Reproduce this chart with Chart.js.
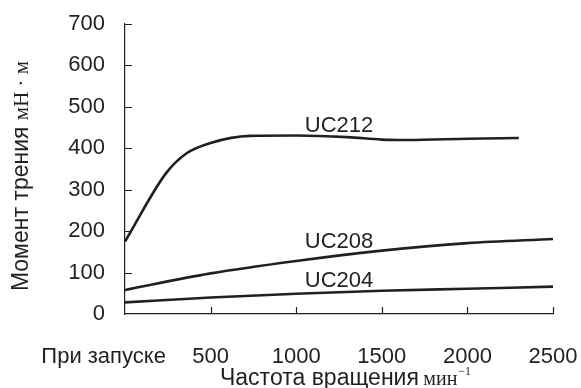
<!DOCTYPE html>
<html>
<head>
<meta charset="utf-8">
<script src="https://cdn.jsdelivr.net/npm/chart.js@4"></script>
<style>
  html, body { margin: 0; padding: 0; background: #fff; }
  #wrap { width: 581px; height: 388px; }
</style>
</head>
<body>
<div id="wrap"><canvas id="chart"></canvas></div>
<script>
// rpm points and friction torque (mN·m)
const uc212Rpm = [0, 240, 360, 500, 730, 1000, 1300, 1500, 1650, 2000, 2300];
const uc212Torque = [175, 340, 388, 413, 430, 431, 427, 421, 420, 423, 425];
const uc208Rpm = [0, 500, 1000, 1500, 2000, 2500];
const uc208Torque = [58, 98, 128, 153, 171, 181];
const uc204Rpm = [0, 500, 1000, 1500, 2000, 2500];
const uc204Torque = [28, 40, 49, 56, 61, 66];

const seriesNames = ['UC212', 'UC208', 'UC204'];
// where each name sits (rpm, torque at text baseline)
const nameRpm = [1050, 1050, 1050];
const nameTorque = [440, 159, 64];

const xTicks = [0, 500, 1000, 1500, 2000, 2500];
const startLabel = 'При запуске';
const yTicks = [0, 100, 200, 300, 400, 500, 600, 700];

const ink = '#231f20';
const sans = '"Liberation Sans", Arial, sans-serif';
const serif = '"Liberation Serif", "Times New Roman", serif';

function toPoints(xs, ys) {
    return xs.map(function (x, i) { return { x: x, y: ys[i] }; });
}

function lineSet(name, xs, ys) {
    return {
        label: name,
        data: toPoints(xs, ys),
        borderColor: ink,
        borderWidth: 2.6,
        pointRadius: 0,
        fill: false,
        cubicInterpolationMode: 'monotone'
    };
}

// inward tick marks, series names and the mixed-font axis titles
const decorations = {
    id: 'decorations',
    afterDraw(chart) {
        const ctx = chart.ctx;
        const x = chart.scales.x;
        const y = chart.scales.y;
        const area = chart.chartArea;
        ctx.save();
        ctx.strokeStyle = ink;
        ctx.lineWidth = 1.2;
        ctx.beginPath();
        yTicks.forEach(function (v) {
            if (v === 0) return;
            const py = Math.round(y.getPixelForValue(v)) + 0.5;
            ctx.moveTo(area.left, py);
            ctx.lineTo(area.left + 7, py);
        });
        xTicks.forEach(function (v) {
            if (v === 0) return;
            const px = Math.round(x.getPixelForValue(v)) + 0.5;
            ctx.moveTo(px, area.bottom);
            ctx.lineTo(px, area.bottom - 7);
        });
        ctx.stroke();

        ctx.fillStyle = ink;
        ctx.font = '22px ' + sans;
        ctx.textAlign = 'left';
        ctx.textBaseline = 'alphabetic';
        seriesNames.forEach(function (name, i) {
            ctx.fillText(name, x.getPixelForValue(nameRpm[i]), y.getPixelForValue(nameTorque[i]));
        });

        // x title: Частота вращения мин^-1
        const xa = 'Частота вращения ';
        const xb = 'мин';
        const xc = '\u22121';
        ctx.font = '23px ' + sans;
        const wa = ctx.measureText(xa).width;
        ctx.font = '20px ' + serif;
        const wb = ctx.measureText(xb).width;
        let sx = 220;
        const by = 385;
        ctx.font = '23px ' + sans;
        ctx.fillText(xa, sx, by);
        sx += wa - 2;
        ctx.font = '20px ' + serif;
        ctx.fillText(xb, sx, by);
        sx += wb + 1;
        ctx.font = '12px ' + serif;
        ctx.fillText(xc, sx, by - 10);

        // y title: Момент трения мН · м
        const ya = 'Момент трения ';
        const yb = 'мН · м';
        ctx.font = '23px ' + sans;
        const ha = ctx.measureText(ya).width;
        ctx.font = '21px ' + serif;
        const hb = ctx.measureText(yb).width;
        ctx.translate(28, 176);
        ctx.rotate(-Math.PI / 2);
        const start = -(ha + hb) / 2;
        ctx.font = '23px ' + sans;
        ctx.fillText(ya, start, 0);
        ctx.font = '21px ' + serif;
        ctx.fillText(yb, start + ha, 0);
        ctx.restore();
    }
};

new Chart(document.getElementById('chart'), {
    type: 'line',
    data: {
        datasets: [
            lineSet('UC212', uc212Rpm, uc212Torque),
            lineSet('UC208', uc208Rpm, uc208Torque),
            lineSet('UC204', uc204Rpm, uc204Torque)
        ]
    },
    options: {
        responsive: true,
        maintainAspectRatio: false,
        animation: false,
        events: [],
        layout: { padding: { top: 24, right: 28, left: 0, bottom: 0 } },
        plugins: {
            legend: { display: false },
            tooltip: { enabled: false }
        },
        scales: {
            x: {
                type: 'linear',
                min: 0,
                max: 2500,
                afterBuildTicks: function (scale) {
                    scale.ticks = xTicks.map(function (v) { return { value: v }; });
                },
                afterFit: function (scale) {
                    scale.height = 74;
                    scale.paddingLeft = 0;
                    scale.paddingRight = 0;
                },
                grid: { display: false, drawTicks: false },
                border: { display: true, color: ink, width: 1.2 },
                ticks: {
                    autoSkip: false,
                    maxRotation: 0,
                    padding: 30,
                    color: ink,
                    font: { family: sans, size: 22 },
                    callback: function (v) {
                        return v === 0 ? startLabel + '       ' : String(v);
                    }
                }
            },
            y: {
                min: 0,
                max: 700,
                afterBuildTicks: function (scale) {
                    scale.ticks = yTicks.map(function (v) { return { value: v }; });
                },
                afterFit: function (scale) {
                    scale.width = 125;
                    scale.paddingTop = 0;
                    scale.paddingBottom = 0;
                },
                grid: { display: false, drawTicks: false },
                border: { display: true, color: ink, width: 1.2 },
                ticks: {
                    padding: 20,
                    color: ink,
                    font: { family: sans, size: 22 }
                }
            }
        }
    },
    plugins: [decorations]
});
</script>
</body>
</html>
